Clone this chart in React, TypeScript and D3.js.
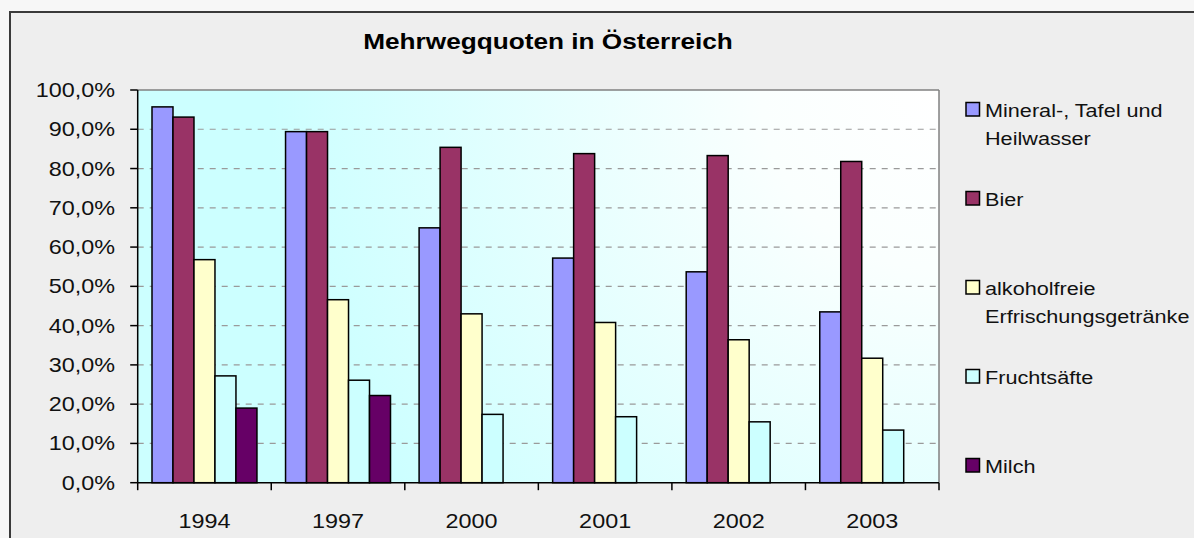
import React from "react";
import * as d3 from "d3";

const years = ["1994", "1997", "2000", "2001", "2002", "2003"];
const mineral = [95.7, 89.4, 64.9, 57.2, 53.7, 43.5];
const bier = [93.1, 89.4, 85.4, 83.8, 83.3, 81.8];
const alkoholfrei = [56.8, 46.6, 43.0, 40.8, 36.4, 31.7];
const fruchtsaefte = [27.2, 26.1, 17.4, 16.8, 15.5, 13.4];
const milch: (number | null)[] = [19.0, 22.2, null, null, null, null];
const yTicks = [0, 10, 20, 30, 40, 50, 60, 70, 80, 90, 100];
const seriesLabels = [
  ["Mineral-, Tafel und", "Heilwasser"],
  ["Bier"],
  ["alkoholfreie", "Erfrischungsgetränke"],
  ["Fruchtsäfte"],
  ["Milch"],
];
const seriesColors = ["#9999ff", "#993366", "#ffffcc", "#ccffff", "#660066"];
const title = "Mehrwegquoten in Österreich";

const W = 1194;
const H = 538;
const plot = { left: 137.7, right: 939, top: 90, bottom: 482.7 };
const SX = 1.17;
const FONT = "'Liberation Sans', Arial, sans-serif";

export default function App() {
  React.useEffect(() => {
    document.body.style.margin = "0";
  }, []);

  const series = [mineral, bier, alkoholfrei, fruchtsaefte, milch];
  const x0 = d3.scaleBand<string>().domain(years).range([plot.left, plot.right]).padding(0);
  const pad = 14.3;
  const x1 = d3
    .scaleBand<number>()
    .domain(d3.range(series.length))
    .range([pad, x0.bandwidth() - pad])
    .padding(0);
  const y = d3.scaleLinear().domain([0, 100]).range([plot.bottom, plot.top]);
  const fmt = (v: number) => d3.format(".1f")(v).replace(".", ",") + "%";

  const boundaries = years.map((yr) => x0(yr)!).concat([plot.right]);

  const legendTop = 102.5;
  const legendStep = 89;

  return (
    <svg
      width={W}
      height={H}
      style={{ position: "absolute", left: 0, top: 0, display: "block" }}
      fontFamily={FONT}
    >
      <defs>
        <radialGradient
          id="plotGrad"
          gradientUnits="userSpaceOnUse"
          cx={plot.right}
          cy={plot.top}
          r={Math.hypot(plot.right - plot.left, plot.bottom - plot.top)}
        >
          <stop offset="0" stopColor="#ffffff" />
          <stop offset="0.2" stopColor="#fafffe" />
          <stop offset="0.75" stopColor="#ccffff" />
          <stop offset="1" stopColor="#ccffff" />
        </radialGradient>
      </defs>
      <rect x={0} y={0} width={W} height={H} fill="#f7f7f7" />
      <rect x={10} y={12} width={W + 20} height={H + 20} fill="#eeeeee" stroke="#3a3a3a" strokeWidth={2} />

      {/* title */}
      <text
        transform={`translate(548,48.5) scale(${SX},1)`}
        textAnchor="middle"
        fontWeight="bold"
        fontSize={22.4}
        fill="#000"
      >
        {title}
      </text>

      {/* plot area */}
      <rect
        x={plot.left}
        y={plot.top}
        width={plot.right - plot.left}
        height={plot.bottom - plot.top}
        fill="url(#plotGrad)"
      />
      {/* gridlines */}
      {yTicks
        .filter((t) => t > 0 && t < 100)
        .map((t) => (
          <line
            key={"g" + t}
            x1={plot.left}
            x2={plot.right}
            y1={y(t)}
            y2={y(t)}
            stroke="#9a9a9a"
            strokeWidth={1.2}
            strokeDasharray="6,6"
          />
        ))}
      {/* plot border top/right */}
      <line x1={plot.left} x2={plot.right} y1={plot.top} y2={plot.top} stroke="#808080" strokeWidth={1.5} />
      <line x1={plot.right} x2={plot.right} y1={plot.top} y2={plot.bottom} stroke="#808080" strokeWidth={1.5} />

      {/* bars */}
      {years.map((yr, i) => (
        <g key={yr} transform={`translate(${x0(yr)},0)`}>
          {series.map((s, k) => {
            const v = s[i];
            if (v == null) return null;
            return (
              <rect
                key={k}
                x={x1(k)}
                y={y(v)}
                width={x1.bandwidth()}
                height={y(0) - y(v)}
                fill={seriesColors[k]}
                stroke="#000"
                strokeWidth={1.5}
              />
            );
          })}
        </g>
      ))}

      {/* axes */}
      <line x1={plot.left} x2={plot.left} y1={plot.top} y2={plot.bottom} stroke="#000" strokeWidth={1.5} />
      <line x1={plot.left} x2={plot.right} y1={plot.bottom} y2={plot.bottom} stroke="#000" strokeWidth={1.5} />
      {yTicks.map((t) => (
        <g key={"yt" + t}>
          <line x1={plot.left - 7.5} x2={plot.left} y1={y(t)} y2={y(t)} stroke="#000" strokeWidth={1.5} />
          <text
            transform={`translate(115,${y(t) + 7}) scale(${SX},1)`}
            textAnchor="end"
            fontSize={20}
            fill="#111"
          >
            {fmt(t)}
          </text>
        </g>
      ))}
      {boundaries.map((bx, i) => (
        <line key={"xt" + i} x1={bx} x2={bx} y1={plot.bottom} y2={plot.bottom + 7.5} stroke="#000" strokeWidth={1.5} />
      ))}
      {years.map((yr) => (
        <text
          key={"xl" + yr}
          transform={`translate(${x0(yr)! + x0.bandwidth() / 2},527.5) scale(${SX},1)`}
          textAnchor="middle"
          fontSize={20}
          fill="#111"
        >
          {yr}
        </text>
      ))}

      {/* legend */}
      {seriesLabels.map((lines, k) => {
        const top = legendTop + k * legendStep;
        return (
          <g key={"lg" + k}>
            <rect x={966} y={top} width={13.5} height={13.5} fill={seriesColors[k]} stroke="#000" strokeWidth={1.5} />
            {lines.map((ln, j) => (
              <text
                key={j}
                transform={`translate(985,${top + 14 + j * 28.3}) scale(${SX},1)`}
                fontSize={18.5}
                fill="#111"
              >
                {ln}
              </text>
            ))}
          </g>
        );
      })}
    </svg>
  );
}
